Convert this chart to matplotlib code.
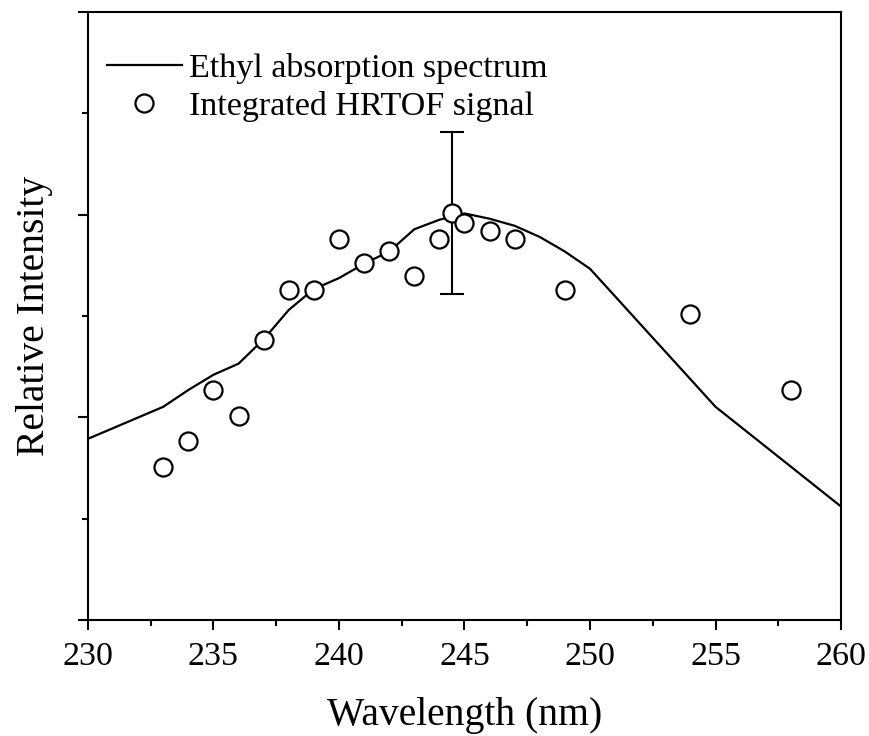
import matplotlib
matplotlib.use("Agg")
import matplotlib.pyplot as plt
from matplotlib.ticker import MultipleLocator, NullFormatter

plt.rcParams["font.family"] = ["Liberation Serif", "DejaVu Serif"]
plt.rcParams["mathtext.fontset"] = "stix"

# ethyl absorption spectrum
spec_wl = [230, 233, 234, 235, 236, 237, 238, 239, 240, 241, 242, 243, 244,
           245, 246, 247, 248, 249, 250, 255, 260]
spec_int = [0.894, 1.052, 1.135, 1.21, 1.265, 1.385, 1.53, 1.633, 1.687, 1.758,
            1.818, 1.928, 1.975, 2.006, 1.98, 1.945, 1.89, 1.818, 1.733,
            1.052, 0.56]

# integrated HRTOF signal
hr_wl = [233, 234, 235, 236, 237, 238, 239, 240, 241, 242, 243, 244, 244.5,
         245, 246, 247, 249, 254, 258]
hr_int = [0.757, 0.885, 1.135, 1.007, 1.381, 1.63, 1.63, 1.88, 1.76, 1.82,
          1.695, 1.88, 2.01, 1.96, 1.92, 1.88, 1.63, 1.51, 1.135]

err_wl = [244.5]
err_val = [2.01]
err_size = [0.40]

fig = plt.figure(figsize=(8.7, 7.36), dpi=100)
ax = fig.add_axes([0.1011, 0.1576, 0.8656, 0.8261])

ax.plot(spec_wl, spec_int, color="black", lw=1.6, label="Ethyl absorption spectrum",
        zorder=2)
ax.errorbar(err_wl, err_val, yerr=err_size, fmt="none", ecolor="black",
            elinewidth=1.5, capsize=8.5, capthick=1.5, zorder=3)
ax.plot(hr_wl, hr_int, ls="none", marker="o", ms=13, mfc="white", mec="black",
        mew=1.6, label="Integrated HRTOF signal", zorder=4)

ax.set_xlim(230, 260)
ax.set_ylim(0, 3)
ax.xaxis.set_major_locator(MultipleLocator(5))
ax.xaxis.set_minor_locator(MultipleLocator(2.5))
ax.yaxis.set_major_locator(MultipleLocator(1))
ax.yaxis.set_minor_locator(MultipleLocator(0.5))
ax.yaxis.set_major_formatter(NullFormatter())

for s in ax.spines.values():
    s.set_linewidth(1.5)
ax.tick_params(which="major", direction="out", length=7.5, width=1.5,
               labelsize=24.5, pad=8)
ax.tick_params(which="minor", direction="out", length=4.5, width=1.5)

ax.set_xlabel("Wavelength (nm)", fontsize=28.5, labelpad=18)
ax.set_ylabel("Relative Intensity", fontsize=28.5, labelpad=10)

ax.legend(loc="upper left", bbox_to_anchor=(0.0252, 0.933), frameon=False,
          fontsize=24.5, handlelength=2.2, handletextpad=0.2, labelspacing=0.2,
          borderpad=0, borderaxespad=0)

fig.savefig("out.png", dpi=100)
